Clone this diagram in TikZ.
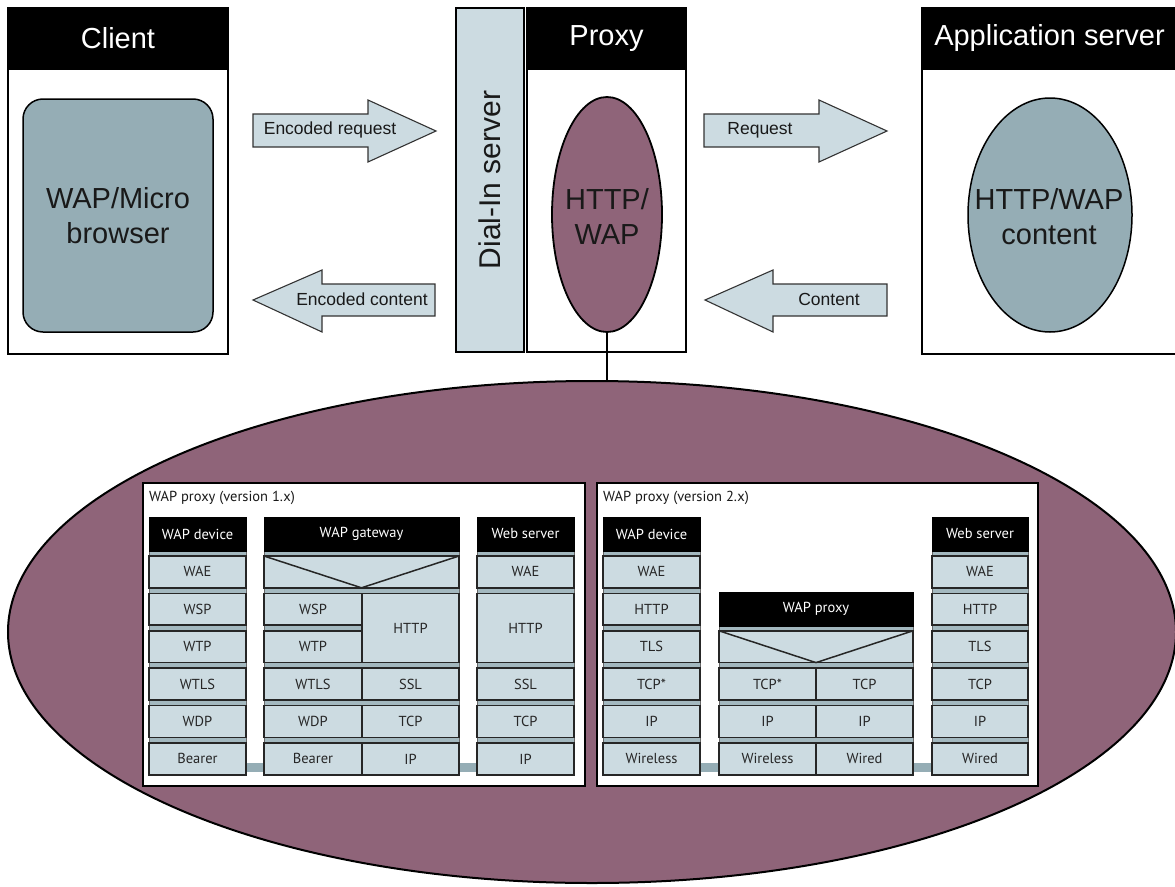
\documentclass[tikz,border=0pt]{standalone}
\usepackage{fontspec}
\setmainfont{Liberation Sans}
\newfontfamily\stackfont{PT Sans}
\usetikzlibrary{shapes.geometric}
\definecolor{plum}{HTML}{8F6479}
\definecolor{slate}{HTML}{95ADB5}
\definecolor{pale}{HTML}{CCDBE1}
\definecolor{stripc}{HTML}{A3B8BF}

% one protocol layer box: name, x1, y1, x2, y2, text
\newcommand\layerbox[6]{%
  \pgfmathsetmacro\LBw{(#4)-(#2)}%
  \pgfmathsetmacro\LBh{(#5)-(#3)}%
  \pgfmathsetmacro\LBy{#3}%
  \node[layer, minimum width=\LBw pt, minimum height=\LBh pt, anchor=north west] (#1) at (#2,\LBy) {#6};}
% layer box spanning rows i..j of a stack: name, x1, x2, i, j, text
\newcommand\rowbox[6]{\layerbox{#1}{#2}{556+37.4*#4}{#3}{556+37.4*#5+31.8}{#6}}
% a complete six-row stack: prefix, x1, x2, labels
\newcommand\fullcol[4]{%
  \foreach \lab [count=\i from 0] in {#4} {\rowbox{#1\i}{#2}{#3}{\i}{\i}{\lab}}}
% black stack header: name, x1, y1, x2, y2, text
\newcommand\stackhead[6]{%
  \pgfmathsetmacro\LBw{(#4)-(#2)}%
  \pgfmathsetmacro\LBh{(#5)-(#3)}%
  \node[headcell, minimum width=\LBw pt, minimum height=\LBh pt, anchor=north west] (#1) at (#2,#3) {#6};}

\begin{document}
\begin{tikzpicture}[x=1pt,y=-1pt,
  every node/.style={inner sep=0pt, outer sep=0pt},
  frame/.style={draw=black, line width=2pt, fill=white},
  headbar/.style={fill=black, draw=black, line width=2pt, text=white,
    font=\fontsize{29}{34}\selectfont},
  bigtext/.style={font=\fontsize{29}{35}\selectfont, align=center, text=black!90},
  blockarrow/.style={draw=black!80, line width=1.1pt, fill=pale, line join=miter},
  arrowtext/.style={font=\fontsize{17.5}{20}\selectfont, text=black!90},
  panel/.style={draw=black, line width=1.8pt, fill=white},
  paneltitle/.style={font=\stackfont\fontsize{14.5}{16}\selectfont, text=black!90, anchor=west},
  layer/.style={draw=black!85, line width=1.5pt, fill=pale,
    font=\stackfont\fontsize{14.5}{16}\selectfont, text=black!85},
  headcell/.style={fill=black, draw=black, line width=1pt, text=white,
    font=\stackfont\fontsize{14.5}{16}\selectfont},
  stripbg/.style={fill=stripc, draw=black!60, line width=0.8pt},
  vline/.style={draw=black!85, line width=1.5pt},
  bar/.style={draw=slate, line width=9pt},
]
\useasboundingbox (0,0) rectangle (1175,886);

% ---------------- client ----------------
\node[frame, minimum width=220pt, minimum height=346pt, anchor=north west] (client) at (8,8) {};
\node[headbar, minimum width=220pt, minimum height=61pt, anchor=north west] (clienthead) at (8,8) {Client};
\node[draw=black, line width=1.5pt, fill=slate, rounded corners=20pt,
  minimum width=190pt, minimum height=233pt, bigtext] (browser) at (118,215.5) {WAP/Micro\\browser};

% ---------------- dial-in server and proxy ----------------
\node[draw=black, line width=2pt, fill=pale, minimum width=68pt, minimum height=344pt, anchor=north west] (dialin) at (456,8) {};
\node[rotate=90, font=\fontsize{30}{34}\selectfont, text=black!90] (dialintext) at (dialin.center) {Dial-In server};
\node[frame, minimum width=159pt, minimum height=344pt, anchor=north west] (proxy) at (527,8) {};
\node[headbar, minimum width=159pt, minimum height=61pt, anchor=north west] (proxyhead) at (527,8) {Proxy};
\node[ellipse, draw=black, line width=1.8pt, fill=plum, minimum width=110pt, minimum height=235pt] (httpwap) at (607,214.5) {};
\node[bigtext] (httpwaptext) at (607,216) {HTTP/\\WAP};

% ---------------- application server ----------------
\node[frame, minimum width=255pt, minimum height=346pt, anchor=north west] (app) at (922,8) {};
\node[headbar, minimum width=255pt, minimum height=61pt, anchor=north west] (apphead) at (922,8) {Application server};
\node[ellipse, draw=black, line width=1.5pt, fill=slate, minimum width=164pt, minimum height=234pt] (content) at (1050,215) {};
\node[bigtext] (contenttext) at (1049,217) {HTTP/WAP\\content};

% ---------------- block arrows ----------------
\draw[blockarrow] (253,114) -- (368,114) -- (368,100) -- (436,131) -- (368,162) -- (368,147) -- (253,147) -- cycle;
\node[arrowtext] (encreq) at (330,130) {Encoded request};
\draw[blockarrow] (435,284) -- (322,284) -- (322,270) -- (253,300) -- (322,332) -- (322,316) -- (435,316) -- cycle;
\node[arrowtext] (enccont) at (362,299) {Encoded content};
\draw[blockarrow] (704,114) -- (819,114) -- (819,100) -- (887,131) -- (819,162) -- (819,147) -- (704,147) -- cycle;
\node[arrowtext] (req) at (760,130) {Request};
\draw[blockarrow] (887,284) -- (773,284) -- (773,270) -- (705,300) -- (773,332) -- (773,316) -- (887,316) -- cycle;
\node[arrowtext] (cont) at (829,299) {Content};

% ---------------- zoomed proxy detail ----------------
\node[ellipse, draw=black, line width=2pt, fill=plum, minimum width=1168pt, minimum height=502pt] (detail) at (592,632) {};
\draw[line width=2pt] (httpwap.south) -- (httpwap.south |- detail.north);

\node[panel, minimum width=442pt, minimum height=303pt, anchor=north west] (panelA) at (143,483) {};
\node[paneltitle] (titleA) at (149,498) {WAP proxy (version 1.x)};
\node[panel, minimum width=441pt, minimum height=303pt, anchor=north west] (panelB) at (597,483) {};
\node[paneltitle] (titleB) at (603,498) {WAP proxy (version 2.x)};

% strip backgrounds behind the stacks
\path[stripbg] (149,551) rectangle (246,775);
\path[stripbg] (264,551) rectangle (459,775);
\path[stripbg] (477,551) rectangle (574,775);
\path[stripbg] (603,551) rectangle (700,775);
\path[stripbg] (719,626) rectangle (913,775);
\path[stripbg] (932,551) rectangle (1028,775);

% version 1.x: WAP device
\stackhead{ah}{149}{517}{246}{551}{WAP device}
\fullcol{a}{149}{246}{WAE,WSP,WTP,WTLS,WDP,Bearer}
% version 1.x: WAP gateway
\stackhead{bh}{264}{517}{459}{551}{WAP gateway}
\rowbox{bv}{264}{459}{0}{0}{}
\draw[vline] (bv.north west) -- (bv.south) -- (bv.north east);
\rowbox{b1}{264}{362}{1}{1}{WSP}
\rowbox{b2}{264}{362}{2}{2}{WTP}
\rowbox{c1}{362}{459}{1}{2}{HTTP}
\rowbox{b3}{264}{362}{3}{3}{WTLS}
\rowbox{c3}{362}{459}{3}{3}{SSL}
\rowbox{b4}{264}{362}{4}{4}{WDP}
\rowbox{c4}{362}{459}{4}{4}{TCP}
\rowbox{b5}{264}{362}{5}{5}{Bearer}
\rowbox{c5}{362}{459}{5}{5}{IP}
% version 1.x: web server
\stackhead{sh}{477}{517}{574}{551}{Web server}
\rowbox{s0}{477}{574}{0}{0}{WAE}
\rowbox{s1}{477}{574}{1}{2}{HTTP}
\rowbox{s3}{477}{574}{3}{3}{SSL}
\rowbox{s4}{477}{574}{4}{4}{TCP}
\rowbox{s5}{477}{574}{5}{5}{IP}

% version 2.x: WAP device
\stackhead{dh}{603}{517}{700}{551}{WAP device}
\fullcol{d}{603}{700}{WAE,HTTP,TLS,TCP*,IP,Wireless}
% version 2.x: WAP proxy
\stackhead{eh}{719}{592}{913}{626}{WAP proxy}
\rowbox{ev}{719}{913}{2}{2}{}
\draw[vline] (ev.north west) -- (ev.south) -- (ev.north east);
\rowbox{e3}{719}{816}{3}{3}{TCP*}
\rowbox{f3}{816}{913}{3}{3}{TCP}
\rowbox{e4}{719}{816}{4}{4}{IP}
\rowbox{f4}{816}{913}{4}{4}{IP}
\rowbox{e5}{719}{816}{5}{5}{Wireless}
\rowbox{f5}{816}{913}{5}{5}{Wired}
% version 2.x: web server
\stackhead{gh}{932}{517}{1028}{551}{Web server}
\fullcol{g}{932}{1028}{WAE,HTTP,TLS,TCP,IP,Wired}

% physical links between the bottom layers
\draw[bar, shorten <=0.75pt, shorten >=0.75pt] ([yshift=-9pt]a5.east) -- ([yshift=-9pt]b5.west);
\draw[bar, shorten <=0.75pt, shorten >=0.75pt] ([yshift=-9pt]c5.east) -- ([yshift=-9pt]s5.west);
\draw[bar, shorten <=0.75pt, shorten >=0.75pt] ([yshift=-9pt]d5.east) -- ([yshift=-9pt]e5.west);
\draw[bar, shorten <=0.75pt, shorten >=0.75pt] ([yshift=-9pt]f5.east) -- ([yshift=-9pt]g5.west);
\end{tikzpicture}
\end{document}
